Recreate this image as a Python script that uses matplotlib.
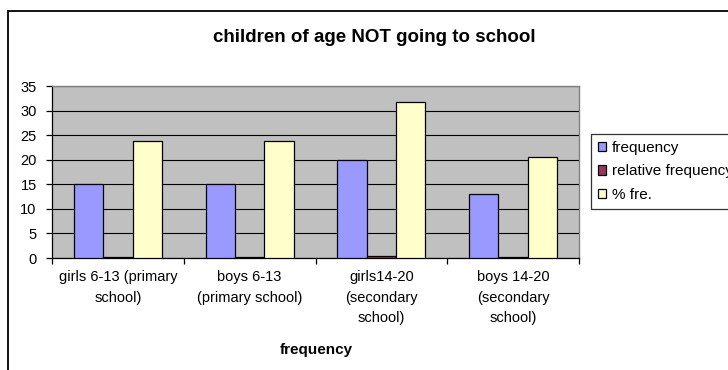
import numpy as np
import matplotlib
matplotlib.use("Agg")
import matplotlib.pyplot as plt
from matplotlib.patches import Rectangle

plt.rcParams['font.family'] = ['Liberation Sans', 'DejaVu Sans']

categories = ["girls 6-13 (primary\nschool)", "boys 6-13\n(primary school)",
              "girls14-20\n(secondary\nschool)", "boys 14-20\n(secondary\nschool)"]
frequency = [15, 15, 20, 13]
relative_frequency = [0.24, 0.24, 0.32, 0.21]
percent_fre = [23.8, 23.8, 31.7, 20.6]
series_names = ["frequency", "relative frequency", "% fre."]
series_colors = ["#9999FF", "#993366", "#FFFFCC"]
y_ticks = [0, 5, 10, 15, 20, 25, 30, 35]

W, H = 728, 370
fig = plt.figure(figsize=(W / 100, H / 100), dpi=100)

# outer chart frame (runs off the right and bottom edges)
fig.patches.append(Rectangle((8 / W, -0.2), 1.2, 1.2 - 11 / H,
                             transform=fig.transFigure, fill=False,
                             edgecolor="black", linewidth=1.3))

ax = fig.add_axes([52 / W, 1 - 258 / H, (579 - 52) / W, (258 - 86) / H])
ax.set_facecolor("#C0C0C0")

x = np.arange(len(categories))
bw = 1 / 4.5
for i, (vals, name, col) in enumerate(zip([frequency, relative_frequency, percent_fre],
                                          series_names, series_colors)):
    ax.bar(x + (i - 1) * bw, vals, width=bw, color=col, edgecolor="black",
           linewidth=0.9, label=name, zorder=3)

ax.set_xlim(-0.5, len(categories) - 0.5)
ax.set_ylim(0, 35)
ax.set_yticks(y_ticks)
ax.yaxis.grid(True, color="black", linewidth=0.8, zorder=1)
ax.set_axisbelow(True)

for side in ("top", "right"):
    ax.spines[side].set_color("#808080")
    ax.spines[side].set_linewidth(1.0)
for side in ("left", "bottom"):
    ax.spines[side].set_color("black")
    ax.spines[side].set_linewidth(0.9)

ax.set_xticks(x)
ax.set_xticklabels(categories, fontsize=10.5, linespacing=1.55)
ax.set_xticks(np.arange(-0.5, len(categories)), minor=True)
ax.tick_params(axis="x", which="major", length=0, pad=9)
ax.tick_params(axis="x", which="minor", length=4, width=0.9, color="black")
ax.tick_params(axis="y", length=4, width=0.9, pad=7, labelsize=10.5)

fig.text(374 / W, 1 - 37 / H, "children of age NOT going to school",
         ha="center", va="center", fontsize=13.5, fontweight="bold")
fig.text(316 / W, 1 - 350 / H, "frequency", ha="center", va="center",
         fontsize=11, fontweight="bold")

leg = fig.legend(loc="upper left", bbox_to_anchor=(591 / W, 1 - 134 / H),
                 bbox_transform=fig.transFigure, fontsize=11, frameon=True,
                 fancybox=False, edgecolor="black", handlelength=0.55,
                 handleheight=0.55, handletextpad=0.35, labelspacing=0.62,
                 borderpad=0.45, borderaxespad=0)
leg.get_frame().set_linewidth(0.9)

fig.savefig("out.png", dpi=100)
